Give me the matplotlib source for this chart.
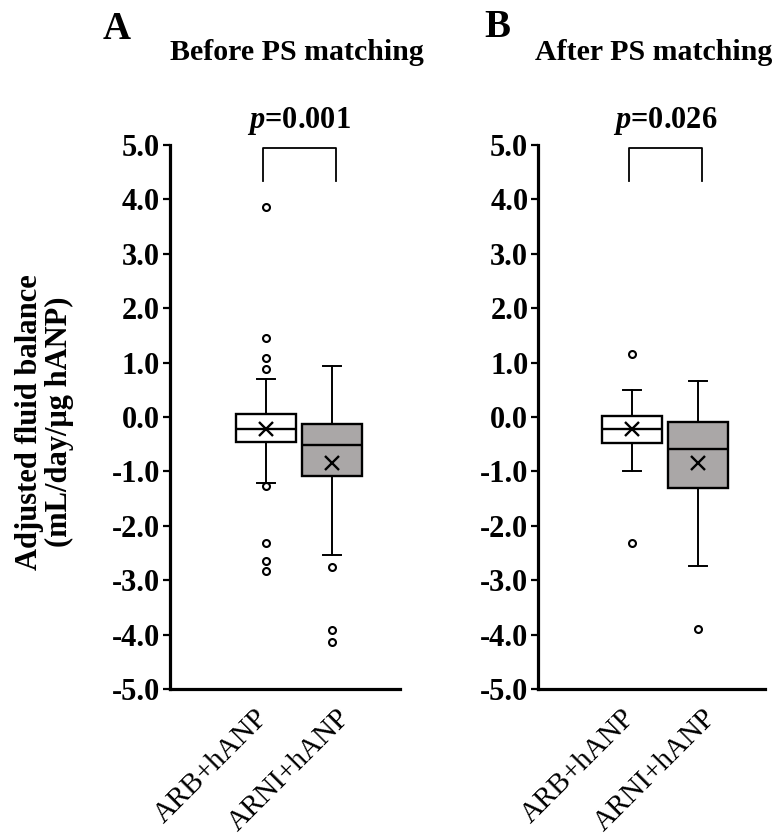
import numpy as np
import matplotlib
matplotlib.use('Agg')
import matplotlib.pyplot as plt
from matplotlib.ticker import FormatStrFormatter
import matplotlib.transforms as mtransforms

plt.rcParams['font.family'] = ['Liberation Serif', 'DejaVu Serif']
plt.rcParams['axes.unicode_minus'] = False
plt.rcParams['mathtext.fontset'] = 'custom'
plt.rcParams['mathtext.it'] = 'Liberation Serif:italic:bold'
plt.rcParams['mathtext.rm'] = 'Liberation Serif:bold'

# groups and box summaries
groups = ['ARB+hANP', 'ARNI+hANP']
box_colors = ['white', '#aaa7a7']

# before PS matching
before_whislo = [-1.21, -2.53]
before_q1 = [-0.46, -1.09]
before_med = [-0.23, -0.52]
before_q3 = [0.05, -0.13]
before_whishi = [0.69, 0.93]
before_mean = [-0.23, -0.84]
before_fliers = [[3.86, 1.45, 1.09, 0.89, -1.27, -2.31, -2.65, -2.83],
                 [-2.75, -3.91, -4.13]]
before_p = 'p=0.001'

# after PS matching
after_whislo = [-1.00, -2.74]
after_q1 = [-0.48, -1.31]
after_med = [-0.23, -0.59]
after_q3 = [0.01, -0.09]
after_whishi = [0.50, 0.67]
after_mean = [-0.22, -0.84]
after_fliers = [[1.15, -2.32], [-3.90]]
after_p = 'p=0.026'

yticks = np.arange(-5, 5.01, 1.0)


def make_stats(whislo, q1, med, q3, whishi, mean, fliers):
    stats = []
    for i in range(len(groups)):
        stats.append({'whislo': whislo[i], 'q1': q1[i], 'med': med[i],
                      'q3': q3[i], 'whishi': whishi[i], 'mean': mean[i],
                      'fliers': fliers[i], 'label': groups[i]})
    return stats


def draw_panel(ax, stats, ptext, xlim):
    bp = ax.bxp(stats, positions=[1, 2], widths=0.91, patch_artist=True,
                showmeans=True, capwidths=0.27,
                boxprops=dict(edgecolor='black', linewidth=1.7),
                medianprops=dict(color='black', linewidth=1.7),
                whiskerprops=dict(color='black', linewidth=1.4),
                capprops=dict(color='black', linewidth=1.4),
                meanprops=dict(marker='x', markeredgecolor='black', markersize=9.5, markeredgewidth=1.7),
                flierprops=dict(marker='o', markerfacecolor='white', markeredgecolor='black',
                                markersize=5, markeredgewidth=1.5))
    for patch, c in zip(bp['boxes'], box_colors):
        patch.set_facecolor(c)

    ax.set_ylim(-5, 5)
    ax.set_xlim(xlim)
    ax.set_yticks(yticks)
    ax.yaxis.set_major_formatter(FormatStrFormatter('%.1f'))
    for lab in ax.get_yticklabels():
        lab.set_fontweight('bold')
    ax.tick_params(axis='y', labelsize=22, length=5, width=1.6, pad=2)
    ax.tick_params(axis='x', length=0, labelsize=21, pad=18)
    ax.spines['top'].set_visible(False)
    ax.spines['right'].set_visible(False)
    ax.spines['left'].set_linewidth(2.3)
    ax.spines['bottom'].set_linewidth(2.3)

    # rotated group labels, nudged sideways like the original
    for lab, dx in zip(ax.get_xticklabels(), [-1, 10]):
        offset = mtransforms.ScaledTranslation(dx / 72, 0, ax.figure.dpi_scale_trans)
        lab.set_rotation(45)
        lab.set_ha('right')
        lab.set_va('center')
        lab.set_rotation_mode('anchor')
        lab.set_transform(lab.get_transform() + offset)

    # significance bracket
    ax.plot([0.96, 0.96, 2.06, 2.06], [4.34, 4.94, 4.94, 4.34], color='black',
            linewidth=1.3, clip_on=False)
    p, val = ptext.split('=')
    ax.text(1.5, 5.45, '$' + p + '$=' + val, ha='center', va='center',
            fontsize=22, fontweight='bold', clip_on=False)


fig = plt.figure(figsize=(7.74, 8.4), dpi=100)
axA = fig.add_axes([0.2196, 0.1798, 0.2972, 0.6476])
axB = fig.add_axes([0.6951, 0.1798, 0.2933, 0.6476])

draw_panel(axA, make_stats(before_whislo, before_q1, before_med, before_q3,
                           before_whishi, before_mean, before_fliers), before_p, (-0.45, 3.03))
draw_panel(axB, make_stats(after_whislo, after_q1, after_med, after_q3,
                           after_whishi, after_mean, after_fliers), after_p, (-0.42, 3.01))

fig.text(0.151, 0.965, 'A', fontsize=28, fontweight='bold', ha='center', va='center')
fig.text(0.384, 0.938, 'Before PS matching', fontsize=21.5, fontweight='bold', ha='center', va='center')
fig.text(0.642, 0.967, 'B', fontsize=28, fontweight='bold', ha='center', va='center')
fig.text(0.844, 0.938, 'After PS matching', fontsize=21.5, fontweight='bold', ha='center', va='center')

fig.text(0.057, 0.498, 'Adjusted fluid balance\n(mL/day/\u03bcg hANP)', fontsize=22,
         fontweight='bold', rotation=90, ha='center', va='center', linespacing=1.05)

fig.savefig('out.png', dpi=100)
